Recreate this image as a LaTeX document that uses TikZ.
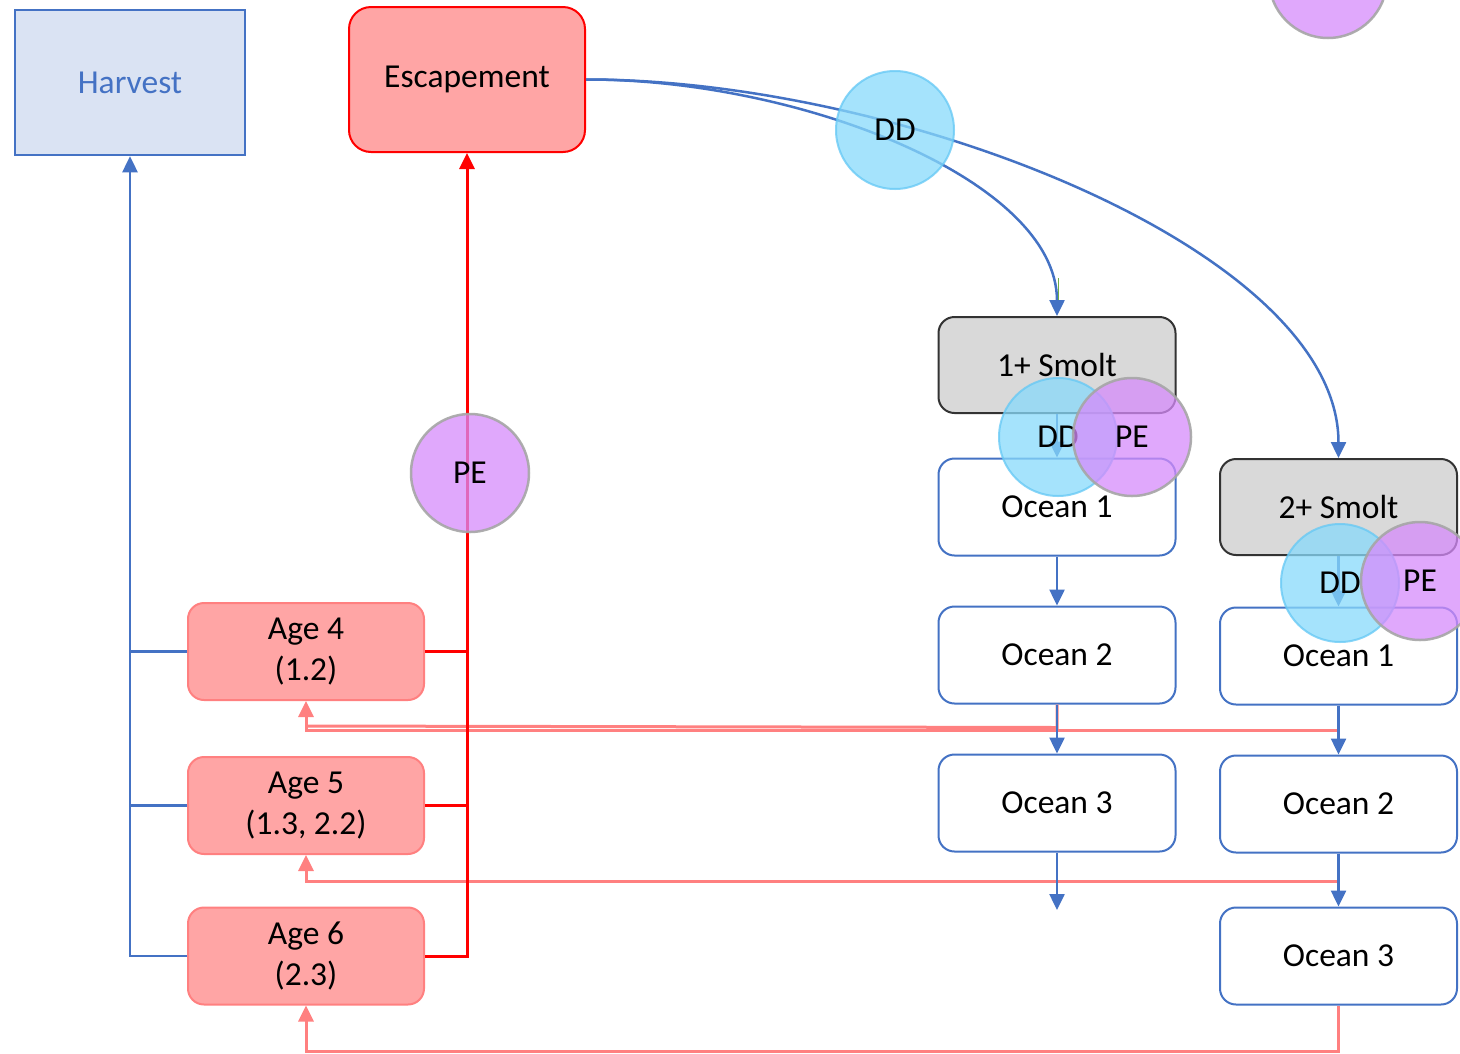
\documentclass[tikz,border=0pt]{standalone}
\usepackage{fontspec}
\setmainfont{Carlito}
\usetikzlibrary{arrows.meta,calc}
\definecolor{blueln}{RGB}{68,114,196}
\definecolor{harvfill}{RGB}{218,227,243}
\definecolor{salfill}{RGB}{255,165,165}
\definecolor{salline}{RGB}{255,128,128}
\definecolor{smoltfill}{RGB}{217,217,217}
\definecolor{ddfill}{RGB}{136,218,251}
\definecolor{dddraw}{RGB}{100,200,245}
\definecolor{pefill}{RGB}{214,139,251}
\definecolor{pedraw}{RGB}{166,166,166}
\definecolor{greenln}{RGB}{112,173,71}
\tikzset{
  txt/.style={font=\fontsize{33.5}{41}\selectfont, align=center, inner sep=0pt},
  harvbox/.style={txt, draw=blueln, line width=2.5pt, fill=harvfill, text=blueln,
    minimum width=230pt, minimum height=145pt},
  escbox/.style={txt, draw=red, line width=2pt, fill=salfill, rounded corners=22pt,
    minimum width=236pt, minimum height=145pt},
  agebox/.style={txt, draw=salline, line width=2pt, fill=salfill, rounded corners=16pt,
    minimum width=236pt, minimum height=97pt},
  smoltbox/.style={txt, draw=black!80, line width=2pt, fill=smoltfill, rounded corners=16pt,
    minimum width=237pt, minimum height=96pt},
  oceanbox/.style={txt, draw=blueln, line width=2pt, fill=white, rounded corners=16pt,
    minimum width=237pt, minimum height=97pt},
  ddcirc/.style={txt, circle, draw=dddraw, line width=2pt, fill=ddfill,
    fill opacity=0.75, draw opacity=0.75, text opacity=1, minimum size=118pt},
  pecirc/.style={txt, circle, draw=pedraw, line width=2.5pt, fill=pefill,
    fill opacity=0.75, draw opacity=0.9, text opacity=1, minimum size=118pt},
  tip/.style={-{Triangle[length=16pt,width=15pt]}},
  bl/.style={draw=blueln, line width=2.5pt},
  rd/.style={draw=red, line width=3pt},
  sal/.style={draw=salline, line width=3pt},
}
\begin{document}
\begin{tikzpicture}[x=1pt,y=-1pt]
\useasboundingbox (0,0) rectangle (1460,1053);
\clip (0,0) rectangle (1460,1053);
\fill[white] (0,0) rectangle (1460,1053);

% boxes
\node[harvbox] (harvest) at (130,82.5) {Harvest};
\node[escbox] (escape) at (467,79.5) {Escapement};

\node[agebox] (age4) at (306,651.5) {Age 4\\(1.2)};
\node[agebox] (age5) at (306,805.5) {Age 5\\(1.3, 2.2)};
\node[agebox] (age6) at (306,956) {Age 6\\(2.3)};

\node[smoltbox] (smolt1) at (1057,365) {1+ Smolt};
\node[oceanbox] (o11) at (1057,507) {Ocean 1};
\node[oceanbox] (o12) at (1057,655) {Ocean 2};
\node[oceanbox] (o13) at (1057,803) {Ocean 3};
\coordinate (end1) at (1057,910);

\node[smoltbox] (smolt2) at (1338.5,507) {2+ Smolt};
\node[oceanbox] (o21) at (1338.5,656) {Ocean 1};
\node[oceanbox] (o22) at (1338.5,804) {Ocean 2};
\node[oceanbox] (o23) at (1338.5,956) {Ocean 3};

% returns of each ocean age to the adult age classes
\draw[sal] (o12.south) -- ++(0,23) -- ($(age4.south)+(0,25)$);
\draw[sal,tip] (o21.south) -- ++(0,25) -| (age4.south);
\draw[sal,tip] (o22.south) -- ++(0,28) -| (age5.south);
\draw[sal,tip] (o23.south) -- ++(0,46) -| (age6.south);

% harvest and escapement of the adults
\draw[bl] (age4.west) -- (age4.west -| harvest.south);
\draw[bl] (age5.west) -- (age5.west -| harvest.south);
\draw[bl,tip] (age6.west) -| (harvest.south);
\draw[rd] (age4.east) -- (age4.east -| escape.south);
\draw[rd] (age5.east) -- (age5.east -| escape.south);
\draw[rd,tip] (age6.east) -| (escape.south);

% escapement produces smolts
\draw[bl,tip] (escape.east) .. controls (800,79) and (1057,180) .. (smolt1.north);
\draw[bl,tip] (escape.east) .. controls (900,79) and (1338.5,250) .. (smolt2.north);
\draw[greenln, line width=1.5pt] (1058.5,278) -- (1058.5,300);

% ocean transitions
\draw[bl,tip] (smolt1.south) -- (o11.north);
\draw[bl,tip] (o11.south) -- (o12.north);
\draw[bl,tip] (o12.south) -- (o13.north);
\draw[bl,tip] (o13.south) -- (end1);
\draw[bl,tip] (smolt2.south) -- (o21.north);
\draw[bl,tip] (o21.south) -- (o22.north);
\draw[bl,tip] (o22.south) -- (o23.north);

% density dependence and process error
\node[ddcirc] (dd0) at (895,130) {DD};
\node[pecirc] (pe0) at (470,473) {PE};
\node[ddcirc] (dd1) at (1058,437) {DD};
\node[pecirc] (pe1) at (1132,437) {PE};
\node[ddcirc] (dd2) at (1340,583) {DD};
\node[pecirc] (pe2) at (1420,581) {PE};
\node[pecirc] (pe3) at (1328,-21) {};
\end{tikzpicture}
\end{document}
